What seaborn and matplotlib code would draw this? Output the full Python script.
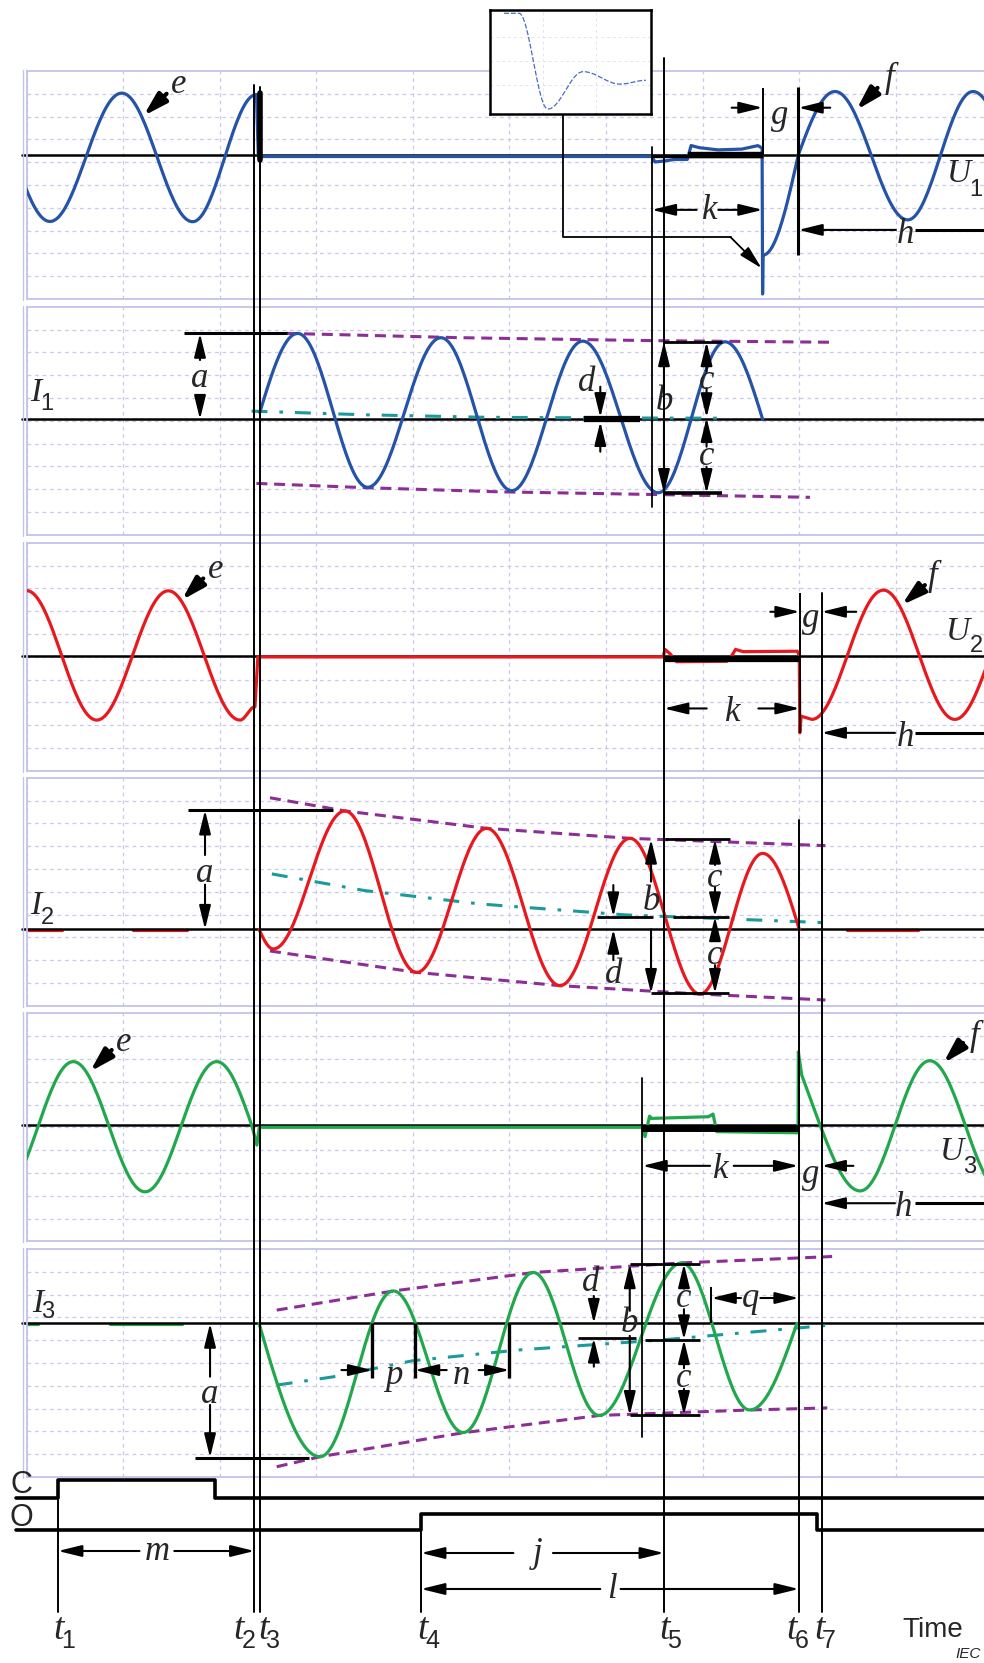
import numpy as np
import matplotlib
matplotlib.use("Agg")
import matplotlib.pyplot as plt
import seaborn as sns

sns.set_style("white")
plt.rcParams["font.family"] = ["Liberation Sans", "DejaVu Sans"]

W, H, DPI = 984, 1663, 100

# ---------------------------------------------------------------- layout
X_PX0 = 26.5          # left edge of the oscillogram panels (px)
PX_PER_MS = 9.66      # time scale: 10 ms per grid division
PANEL_PX = 228        # panel height (px), 10 grid rows
PANEL_TOP_PX = [71, 306.7, 542.7, 777.7, 1013.3, 1249]
PANEL_YTOP = [3.68, 4.94, 4.96, 6.65, 4.90, 3.26]   # top edge above zero line (div)
PANELS = ["U1", "I1", "U2", "I2", "U3", "I3"]

BLUE, RED, GREEN = "#2453a8", "#e8191e", "#22a84c"
PURPLE, TEAL = "#8c2e96", "#1a9a9a"
GRID, BORDER = "#c9c9ec", "#c3c3ea"
SERIF = ["Liberation Serif", "DejaVu Serif"]
SANS = ["Liberation Sans", "DejaVu Sans"]
LETTER = 25        # size of the italic dimension letters
SYMBOL = 24        # U / I quantity symbols
SUB = 17

# ---------------------------------------------------------------- timing (ms)
T_MARKS = [3.26, 23.60, 24.15, 40.84, 65.99, 79.95, 82.30]     # t1 .. t7
T_NAMES = ["1", "2", "3", "4", "5", "6", "7"]
CLOSE_CMD = [3.26, 19.54]
OPEN_CMD = [40.84, 81.80]
ARC_START = [64.72, 65.99, 63.75]      # per phase
ARC_END = [76.21, 80.05, 79.90]
RECOVERY = [79.90, 82.30, 82.30]

# ---------------------------------------------------------------- traces
# knot times (ms), values (grid divisions) and segment shapes:
# c = half cosine, l = straight, s = zero to crest, q = crest to zero
U1_T = [-4.92, 2.43, 9.86, 17.20, 23.80, 24.00, 64.72, 65.06, 65.80, 67.00, 68.40,
        68.80, 69.60, 71.50, 74.00, 75.70, 76.15, 76.20, 76.25, 79.90, 83.70, 91.22,
        97.98, 105.4]
U1_V = [2.72, -2.92, 2.71, -2.93, 2.65, -0.07, -0.07, -0.31, -0.28, -0.20, -0.20,
        0.41, 0.32, 0.22, 0.25, 0.41, 0.30, -6.10, -4.39, 0.0, 2.78, -2.85, 2.78, -2.85]
U1_S = "cccc" + "l" * 14 + "qs" + "ccc"

I1_T = [24.15, 28.07, 35.32, 42.91, 50.23, 57.58, 65.40, 72.31, 76.21]
I1_V = [0.30, 3.77, -2.98, 3.58, -3.13, 3.43, -3.22, 3.40, 0.0]
I1_S = "scccccc" + "q"

U2_T = [0.0, 7.27, 14.68, 22.10, 23.65, 23.95, 65.90, 66.10, 66.60, 67.30, 72.50,
        73.00, 73.40, 74.20, 79.80, 80.00, 80.05, 80.20, 81.30, 88.70, 96.10, 103.5]
U2_V = [2.86, -2.82, 2.85, -2.82, -2.24, -0.05, -0.05, 0.28, 0.10, -0.26, -0.24,
        0.0, 0.28, 0.18, 0.20, 0.0, -3.38, -2.65, -2.79, 2.88, -2.79, 2.88]
U2_S = "cccc" + "l" * 14 + "ccc"

I2_T = [24.07, 25.55, 32.97, 40.39, 47.64, 55.23, 62.47, 69.72, 76.21, 80.00]
I2_V = [0.0, -0.86, 5.19, -1.89, 4.43, -2.47, 3.99, -2.84, 3.33, 0.0]
I2_S = "s" + "c" * 7 + "q"
I2_IDLE = [(-0.40, 3.70), (11.0, 16.6), (84.9, 92.3)]

U3_T = [-2.46, 4.84, 12.27, 19.69, 23.31, 23.85, 24.10, 63.75, 64.03, 64.50, 64.70,
        70.58, 71.07, 71.45, 79.87, 79.90, 80.25, 82.14, 86.30, 93.50, 100.9]
U3_V = [-2.92, 2.78, -2.93, 2.78, 0.0, -0.88, -0.10, -0.10, -0.51, 0.39, 0.29,
        0.36, 0.48, -0.29, -0.34, 3.21, 2.19, 0.0, -2.89, 2.82, -2.89]
U3_S = "ccc" + "q" + "l" * 13 + "s" + "cc"

I3_T = [24.07, 30.38, 37.97, 45.22, 52.46, 59.27, 67.84, 74.86, 79.76]
I3_V = [0.0, -5.85, 1.42, -4.79, 2.23, -4.04, 2.65, -3.80, 0.0]
I3_S = "s" + "c" * 6 + "q"
I3_IDLE = [(0.16, 1.20), (8.65, 16.1)]
I3_ZEROS = [35.8, 40.2, 50.0]

# envelopes and DC component of the short-circuit currents
I1_HI_T, I1_HI_V = [26.9, 45.0, 65.0, 83.7], [3.77, 3.58, 3.45, 3.38]
I1_LO_T, I1_LO_V = [23.8, 35.2, 49.0, 65.4, 81.1], [-2.81, -3.00, -3.18, -3.30, -3.42]
I1_DC_T, I1_DC_V = [23.3, 35.0, 47.5, 60.0, 72.0], [0.36, 0.20, 0.09, 0.06, 0.05]
I2_HI_T, I2_HI_V = [25.2, 33.0, 47.6, 62.5, 82.7], [5.77, 5.19, 4.43, 3.99, 3.67]
I2_LO_T, I2_LO_V = [25.2, 40.4, 55.2, 69.7, 82.7], [-0.95, -1.89, -2.47, -2.84, -3.10]
I2_DC_T, I2_DC_V = [25.4, 35.0, 47.0, 62.1, 82.8], [2.43, 1.70, 1.11, 0.63, 0.29]
I3_HI_T, I3_HI_V = [25.9, 38.0, 52.5, 67.8, 83.4], [0.58, 1.42, 2.23, 2.65, 2.93]
I3_LO_T, I3_LO_V = [25.9, 30.4, 45.2, 59.3, 74.9, 82.9], [-6.29, -5.85, -4.80, -4.04, -3.80, -3.71]
I3_DC_T, I3_DC_V = [25.9, 31.7, 40.0, 50.9, 66.0, 82.9], [-2.71, -2.35, -1.64, -1.17, -0.72, -0.09]

# detail of the recovery voltage oscillation
INSET_T = [0.087, 0.18, 0.36, 0.58, 0.81, 0.97]
INSET_V = [1.0, 1.0, 0.0, 0.39, 0.26, 0.30]
INSET_S = "lcccc"


def trace_path(ts, vs, shapes, n=40):
    xs, ys = [ts[0]], [vs[0]]
    f = np.linspace(0, 1, n)[1:]
    for i, s in enumerate(shapes):
        t0, t1, v0, v1 = ts[i], ts[i + 1], vs[i], vs[i + 1]
        if s == "c":
            w = (1 - np.cos(np.pi * f)) / 2
        elif s == "s":
            w = np.sin(np.pi * f / 2)
        elif s == "q":
            w = 1 - np.cos(np.pi * f / 2)
        else:
            w = f
        xs.extend(t0 + (t1 - t0) * f)
        ys.extend(v0 + (v1 - v0) * w)
    return np.array(xs), np.array(ys)


def draw_trace(ax, t, v, shapes, color, lw=2.3):
    x, y = trace_path(t, v, shapes)
    sns.lineplot(x=x, y=y, sort=False, estimator=None, color=color, lw=lw, ax=ax, zorder=3)


def draw_guide(ax, t, v, color, dashes):
    sns.lineplot(x=t, y=v, sort=False, estimator=None, color=color, lw=2.2,
                 linestyle=(0, dashes), ax=ax, zorder=2.5)


ARROW = "-|>,head_length=0.9,head_width=0.22"
FAT = "-|>,head_length=1.1,head_width=0.32"


def arrow(ax, p0, p1, lw=1.5, style=ARROW, scale=16):
    ax.annotate("", xy=p1, xytext=p0, annotation_clip=False, zorder=8,
                arrowprops=dict(arrowstyle=style, color="k", lw=lw, mutation_scale=scale,
                                shrinkA=0, shrinkB=0))


def fat_arrow(ax, p0, p1):
    arrow(ax, p0, p1, lw=3.0, style=FAT, scale=13)


def italic(ax, x, y, s, size=LETTER):
    ax.text(x, y, s, fontsize=size, family=SERIF, style="italic", ha="center",
            va="center", clip_on=False, zorder=9)


def sans(ax, x, y, s, size=SUB, **kw):
    ax.text(x, y, s, fontsize=size, family=SANS, ha="center", va="center",
            clip_on=False, zorder=9, **kw)


def line(ax, xs, ys, lw=2.0, **kw):
    ax.plot(xs, ys, color="k", lw=lw, clip_on=False, solid_capstyle="butt", zorder=7, **kw)


def vdim(ax, x, top, bot, label, ylab, gu=0.6, gd=0.6):
    arrow(ax, (x, ylab + gu), (x, top))
    arrow(ax, (x, ylab - gd), (x, bot))
    italic(ax, x, ylab, label)


def hdim(ax, y, left, right, label, xlab, gl=1.0, gr=1.0, ylab=None):
    arrow(ax, (xlab - gl, y), (left, y))
    arrow(ax, (xlab + gr, y), (right, y))
    italic(ax, xlab, y if ylab is None else ylab, label)


fig = plt.figure(figsize=(W / DPI, H / DPI), dpi=DPI)
fig.patch.set_facecolor("white")

# ---------------------------------------------------------------- panels
axes = {}
for name, top, ytop in zip(PANELS, PANEL_TOP_PX, PANEL_YTOP):
    ax = fig.add_axes([X_PX0 / W, 1 - (top + PANEL_PX) / H, 100 * PX_PER_MS / W, PANEL_PX / H])
    ax.set_facecolor("none")
    ax.plot([-0.47, 101], [0, 0], color="k", lw=1.8, zorder=2, clip_on=False)
    axes[name] = ax

U1, I1, U2, I2, U3, I3 = (axes[n] for n in PANELS)

draw_trace(U1, U1_T, U1_V, U1_S, BLUE)
draw_trace(I1, I1_T, I1_V, I1_S, BLUE)
draw_trace(U2, U2_T, U2_V, U2_S, RED)
draw_trace(I2, I2_T, I2_V, I2_S, RED)
draw_trace(U3, U3_T, U3_V, U3_S, GREEN)
draw_trace(I3, I3_T, I3_V, I3_S, GREEN)
for a, b in I2_IDLE:
    sns.lineplot(x=[a, b], y=[-0.03, -0.03], color=RED, lw=2.3, ax=I2, zorder=1.5)
for a, b in I3_IDLE:
    sns.lineplot(x=[a, b], y=[-0.03, -0.03], color=GREEN, lw=2.3, ax=I3, zorder=1.5)

ENV_DASH, DC_DASH = (3.6, 2.2), (5.2, 3.9, 1.2, 3.9)
for ax, hi, lo, dc in [
    (I1, (I1_HI_T, I1_HI_V), (I1_LO_T, I1_LO_V), (I1_DC_T, I1_DC_V)),
    (I2, (I2_HI_T, I2_HI_V), (I2_LO_T, I2_LO_V), (I2_DC_T, I2_DC_V)),
    (I3, (I3_HI_T, I3_HI_V), (I3_LO_T, I3_LO_V), (I3_DC_T, I3_DC_V)),
]:
    draw_guide(ax, *hi, PURPLE, ENV_DASH)
    draw_guide(ax, *lo, PURPLE, ENV_DASH)
    draw_guide(ax, *dc, TEAL, DC_DASH)

for ax, ytop in zip(axes.values(), PANEL_YTOP):
    ax.set_xlim(0, 100)
    ax.set_ylim(ytop - 10, ytop)
    ax.set_xticks(np.arange(0, 101, 10))
    ax.set_yticks(ytop - np.arange(1, 10))
    ax.tick_params(length=0, labelbottom=False, labelleft=False)
    ax.grid(True, color=GRID, ls=(0, (3, 3)), lw=0.9)
    ax.set_xlabel("")
    ax.set_ylabel("")
    for sp in ax.spines.values():
        sp.set_color(BORDER)
        sp.set_linewidth(1.3)

# ---------------------------------------------------------------- U1
fat_arrow(U1, (14.5, 2.68), (12.1, 1.71)); italic(U1, 15.7, 3.1, "e")
fat_arrow(U1, (88.1, 2.94), (85.9, 1.97)); italic(U1, 89.3, 3.35, "f")
line(U1, [ARC_START[0], ARC_END[0]], [-0.03, -0.03], lw=2.4)
line(U1, [68.5, ARC_END[0]], [0.0, 0.0], lw=4.6)
line(U1, [ARC_END[0]] * 2, [0.0, 2.94], lw=1.4)
line(U1, [RECOVERY[0]] * 2, [-4.39, 3.0], lw=2.2)
arrow(U1, (73.0, 2.07), (ARC_END[0], 2.07)); arrow(U1, (83.2, 2.07), (RECOVERY[0], 2.07))
italic(U1, 78.0, 1.72, "g")
hdim(U1, -2.41, ARC_START[0], ARC_END[0], "k", 70.72, 1.35, 0.9, ylab=-2.45)
arrow(U1, (90.0, -3.29), (RECOVERY[0], -3.29)); line(U1, [92.0, 102], [-3.29] * 2, lw=2.2)
italic(U1, 91.0, -3.5, "h")
italic(U1, 96.5, -0.83, "U", SYMBOL); sans(U1, 98.25, -1.55, "1")

# ---------------------------------------------------------------- I1
line(I1, [16.3, 27.0], [3.77] * 2, lw=2.2)
vdim(I1, 17.96, 3.77, 0.0, "a", 1.8, 0.8, 0.88)
line(I1, [57.7, 63.5], [0.0, 0.0], lw=4.5)
arrow(I1, (59.4, 1.43), (59.4, 0.08)); arrow(I1, (59.4, -1.42), (59.4, -0.1))
italic(I1, 58.0, 1.6, "d")
vdim(I1, T_MARKS[4], 3.40, -3.25, "b", 0.77, 0.59, 0.51)
line(I1, [T_MARKS[4], 71.97], [3.40] * 2, lw=2.0)
line(I1, [T_MARKS[4], 71.97], [-3.25] * 2, lw=2.6)
vdim(I1, 70.4, 3.40, 0.075, "c", 1.72, 0.37, 0.35)
vdim(I1, 70.4, 0.075, -3.25, "c", -1.64, 0.44, 0.44)
italic(I1, 0.95, 1.15, "I", SYMBOL); sans(I1, 2.15, 0.68, "1")

# ---------------------------------------------------------------- U2
fat_arrow(U2, (18.3, 3.39), (16.07, 2.44)); italic(U2, 19.6, 3.8, "e")
fat_arrow(U2, (93.0, 3.1), (90.6, 2.22)); italic(U2, 93.8, 3.5, "f")
line(U2, [ARC_START[1], ARC_END[1]], [-0.12, -0.12], lw=4.5)
line(U2, [ARC_END[1]] * 2, [-3.38, 2.74], lw=1.4)
arrow(U2, (77.0, 1.93), (ARC_END[1], 1.93)); arrow(U2, (85.9, 1.93), (RECOVERY[1], 1.93))
italic(U2, 81.15, 1.65, "g")
hdim(U2, -2.31, ARC_START[1], ARC_END[1], "k", 73.06, 2.65, 2.7, ylab=-2.5)
arrow(U2, (89.9, -3.38), (RECOVERY[1], -3.38)); line(U2, [92.0, 102], [-3.38] * 2, lw=2.2)
italic(U2, 90.95, -3.57, "h")
italic(U2, 96.43, 1.04, "U", SYMBOL); sans(U2, 98.3, 0.42, "2")

# ---------------------------------------------------------------- I2
line(I2, [16.75, 31.76], [5.23] * 2, lw=2.2)
vdim(I2, 18.48, 5.23, 0.0, "a", 2.46, 0.8, 0.5)
arrow(I2, (64.65, 2.09), (64.65, 3.95)); italic(I2, 64.65, 1.21, "b")
arrow(I2, (64.65, 0.0), (64.65, -2.81))
line(I2, [66.1, 72.8], [3.95] * 2, lw=2.0)
line(I2, [64.65, 72.75], [-2.81] * 2, lw=2.0)
line(I2, [66.9, 72.75], [0.55] * 2, lw=2.0)
line(I2, [59.09, 64.9], [0.55] * 2, lw=2.0)
vdim(I2, 71.27, 3.95, 0.55, "c", 2.24, 0.58, 0.37)
vdim(I2, 71.27, 0.55, -2.81, "c", -1.13, 0.74, 0.44)
arrow(I2, (60.75, 1.94), (60.75, 0.55)); arrow(I2, (60.75, -1.35), (60.75, 0.0))
italic(I2, 60.75, -2.0, "d")
italic(I2, 0.95, 1.02, "I", SYMBOL); sans(I2, 2.17, 0.5, "2")

# ---------------------------------------------------------------- U3
fat_arrow(U3, (8.82, 3.29), (6.57, 2.34)); italic(U3, 10.1, 3.62, "e")
fat_arrow(U3, (96.95, 3.6), (94.9, 2.71)); italic(U3, 98.1, 3.9, "f")
line(U3, [ARC_START[2], ARC_END[2]], [-0.15, -0.15], lw=5.0)
hdim(U3, -1.79, ARC_START[2], ARC_END[2], "k", 71.86, 1.1, 1.35, ylab=-1.97)
arrow(U3, (85.6, -1.79), (RECOVERY[2], -1.79)); italic(U3, 81.2, -2.19, "g")
arrow(U3, (89.9, -3.43), (RECOVERY[2], -3.43)); line(U3, [92.0, 102], [-3.43] * 2, lw=2.2)
italic(U3, 90.77, -3.63, "h")
italic(U3, 95.81, -1.18, "U", SYMBOL); sans(U3, 97.6, -1.85, "3")

# ---------------------------------------------------------------- I3
line(I3, [17.4, 29.2], [-5.89] * 2, lw=2.2)
vdim(I3, 19.0, 0.0, -5.89, "a", -3.14, 0.8, 0.44)
for z in I3_ZEROS:
    line(I3, [z, z], [0.0, -2.41], lw=2.4)
arrow(I3, (32.6, -2.05), (I3_ZEROS[0], -2.05)); italic(I3, 38.0, -2.27, "p")
arrow(I3, (43.5, -2.05), (I3_ZEROS[1], -2.05)); italic(I3, 45.05, -2.27, "n")
arrow(I3, (46.8, -2.05), (I3_ZEROS[2], -2.05))
line(I3, [57.1, 63.1], [-0.65] * 2, lw=2.0)
arrow(I3, (58.73, 1.2), (58.73, 0.0)); arrow(I3, (58.73, -1.9), (58.73, -0.65))
italic(I3, 58.4, 1.8, "d")
vdim(I3, 62.45, 2.61, -4.04, "b", 0.0, 0.55, 0.55)
line(I3, [62.45, 69.7], [2.61] * 2, lw=2.0)
line(I3, [62.45, 69.7], [-4.04] * 2, lw=2.0)
line(I3, [64.0, 69.7], [-0.72] * 2, lw=2.0)
vdim(I3, 68.06, 2.61, -0.72, "c", 1.07, 0.45, 0.45)
vdim(I3, 68.06, -0.72, -4.04, "c", -2.42, 0.45, 0.45)
line(I3, [70.9, 70.9], [0.0, 1.6], lw=1.4)
hdim(I3, 1.11, 70.9, T_MARKS[5], "q", 74.97, 1.0, 1.0)
italic(I3, 1.2, 0.85, "I", SYMBOL); sans(I3, 2.15, 0.5, "3")

# ---------------------------------------------------------------- overlay (x: ms, y: px)
ov = fig.add_axes([0, 0, 1, 1])
ov.set_xlim(-X_PX0 / PX_PER_MS, (W - X_PX0) / PX_PER_MS)
ov.set_ylim(H, 0)
ov.axis("off")
ov.patch.set_alpha(0)
ov.set_zorder(5)

for top in PANEL_TOP_PX:
    ov.plot([-0.39, -0.39], [top - 1, top + PANEL_PX + 1], color=BORDER, lw=1.0)

T_TOP_PX = [1480, 85, 87, 1514, 58, 820, 593]
T_BOTTOM_PX = 1612
for t, y0 in zip(T_MARKS, T_TOP_PX):
    ov.plot([t, t], [y0, T_BOTTOM_PX], color="k", lw=1.4)
ov.plot([T_MARKS[2]] * 2, [93, 160], color="k", lw=4.0)
ov.plot([ARC_START[0]] * 2, [147, 507], color="k", lw=1.3)
ov.plot([ARC_START[2]] * 2, [1078, 1437], color="k", lw=1.3)

# leader from the detail box to the recovery voltage oscillation
ov.plot([55.5, 55.5, 72.9], [114, 237.3, 237.3], color="k", lw=1.3)
arrow(ov, (72.9, 237.3), (76.1, 268.3), lw=1.3)

# close (C) and open (O) commands
C_LOW, C_HIGH, O_LOW, O_HIGH = 1498, 1480, 1530, 1514
cx = [-1.09, CLOSE_CMD[0], CLOSE_CMD[0], CLOSE_CMD[1], CLOSE_CMD[1], 102]
cy = [C_LOW, C_LOW, C_HIGH, C_HIGH, C_LOW, C_LOW]
ox = [-1.09, OPEN_CMD[0], OPEN_CMD[0], OPEN_CMD[1], OPEN_CMD[1], 102]
oy = [O_LOW, O_LOW, O_HIGH, O_HIGH, O_LOW, O_LOW]
sns.lineplot(x=cx, y=cy, sort=False, estimator=None, color="k", lw=2.6, ax=ov)
sns.lineplot(x=ox, y=oy, sort=False, estimator=None, color="k", lw=2.6, ax=ov)
ov.set_xlim(-X_PX0 / PX_PER_MS, (W - X_PX0) / PX_PER_MS)
ov.set_ylim(H, 0)
sans(ov, (21 - X_PX0) / PX_PER_MS, 1485, "C", 22)
sans(ov, (21 - X_PX0) / PX_PER_MS, 1518, "O", 22)

hdim(ov, 1551, T_MARKS[0], T_MARKS[1], "m", 13.5, 1.8, 1.8)
hdim(ov, 1553, T_MARKS[3], T_MARKS[4], "j", 52.9, 2.5, 1.6)
hdim(ov, 1589, T_MARKS[3], T_MARKS[5], "l", 60.6, 1.2, 0.9)

T_LABEL_DX_PX = [5, -11.5, 8, 6, 5, -3, 2]
for t, name, dx in zip(T_MARKS, T_NAMES, T_LABEL_DX_PX):
    xc = t + dx / PX_PER_MS
    italic(ov, xc - 4 / PX_PER_MS, 1630, "t", 27)
    sans(ov, xc + 5.5 / PX_PER_MS, 1641, name, 18)
sans(ov, (933 - X_PX0) / PX_PER_MS, 1630, "Time", 20)
sans(ov, (968 - X_PX0) / PX_PER_MS, 1654, "IEC", 11, style="italic")

# ---------------------------------------------------------------- detail box
ins = fig.add_axes([490 / W, 1 - 114 / H, 160.7 / W, 104 / H])
ins.set_zorder(6)
x, y = trace_path(INSET_T, INSET_V, INSET_S)
sns.lineplot(x=x, y=y, sort=False, estimator=None, color="#4a6cc0", lw=0.9,
             linestyle=(0, (4, 1.5)), ax=ins)
ins.set_xlim(0, 1)
ins.set_ylim(-0.052, 1.034)
ins.set_xticks([0.33, 0.66])
ins.set_yticks([0.25, 0.5, 0.75])
ins.grid(True, color="#e4e4f4", ls=(0, (3, 3)), lw=0.7)
ins.tick_params(length=0, labelbottom=False, labelleft=False)
ins.set_xlabel("")
ins.set_ylabel("")
for sp in ins.spines.values():
    sp.set_color("k")
    sp.set_linewidth(1.8)

fig.savefig("out.png", dpi=DPI, facecolor="white")
